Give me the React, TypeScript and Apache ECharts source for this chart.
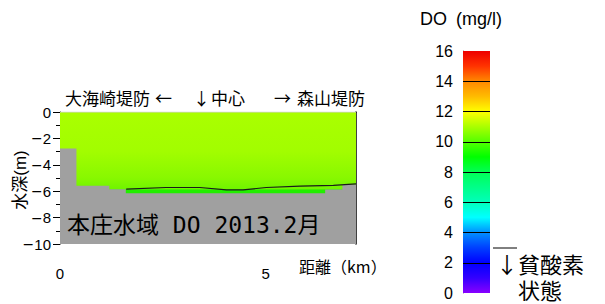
import React, { useEffect, useRef } from "react";
import * as echarts from "echarts";

// Seabed profile (distance km, depth m)
const seabedKm = [0, 0.4, 0.4, 1.2, 1.2, 1.6, 1.6, 6.45, 6.45, 6.87, 6.87, 7.2];
const seabedDepth = [-2.76, -2.76, -5.58, -5.58, -5.85, -5.85, -6.15, -6.15, -5.87, -5.87, -5.5, -5.5];

// Black contour line (distance km, depth m)
const lineKm = [1.61, 2.58, 3.4, 4.05, 4.45, 5.02, 5.84, 6.65, 7.2];
const lineDepth = [-5.85, -5.72, -5.72, -5.9, -5.9, -5.72, -5.62, -5.56, -5.45];

// Water surface
const waterKm = [0, 7.2];
const waterDepth = [0, 0];

// Colour bar
const colorbarMax = [16];
const colorbarTicks = [2, 4, 6, 8, 10, 12, 14];
const colorStops = [
  "#8800ff", "#3300ff", "#0000ff", "#0040ff", "#0090ff", "#00ffff", "#00ffbb", "#00ff88",
  "#00ff55", "#00ff00", "#55ff00", "#aaff00", "#ffff00", "#ffbb00", "#ff8800", "#ff3300", "#ee0000",
];

const xLabelsShown = [0, 5];

const CJK = "'Liberation Sans', 'Noto Sans CJK JP', sans-serif";
const CJKF = "'Noto Sans CJK JP', sans-serif";

export default function App() {
  const ref = useRef<HTMLDivElement>(null);
  useEffect(() => {
    document.body.style.margin = "0";
    if (!ref.current) return;
    const chart = echarts.init(ref.current, undefined, { renderer: "svg" });
    const pair = (xs: number[], ys: number[]) => xs.map((x, i) => [x, ys[i]]);
    const barGradient = new echarts.graphic.LinearGradient(
      0, 1, 0, 0,
      colorStops.map((c, i) => ({ offset: i / (colorStops.length - 1), color: c }))
    );
    const waterGradient = new echarts.graphic.LinearGradient(0, 0, 0, 1, [
      { offset: 0, color: "#aaff00" },
      { offset: 0.3, color: "#a2fd00" },
      { offset: 0.5, color: "#88f800" },
      { offset: 0.583, color: "#70f400" },
      { offset: 0.59, color: "#22ee00" },
      { offset: 1, color: "#22ee00" },
    ]);
    const txt = (left: number, top: number, text: string, font: string, lineHeight?: number) => ({
      type: "text", left, top, z: 100,
      style: { text, font, fill: "#000", ...(lineHeight ? { lineHeight } : {}) },
    });
    chart.setOption({
      animation: false,
      grid: [
        { left: 60, top: 112, width: 296, height: 132, containLabel: false },
        { left: 463, top: 51, width: 27, height: 242, containLabel: false },
      ],
      xAxis: [
        {
          type: "value", gridIndex: 0, min: 0, max: 7.2, interval: 1,
          axisLine: { show: true, lineStyle: { color: "#000", width: 1 } },
          axisTick: { show: true, length: 5, lineStyle: { color: "#000" } },
          axisLabel: {
            show: true, margin: 22, fontSize: 15, color: "#000", fontFamily: CJK,
            formatter: (v: number) => (xLabelsShown.includes(v) ? String(v) : ""),
            showMaxLabel: false,
          },
          splitLine: { show: false },
        },
        {
          type: "category", gridIndex: 1, data: ["DO"],
          show: false,
        },
      ],
      yAxis: [
        {
          type: "value", gridIndex: 0, min: -10, max: 0, interval: 2,
          axisLine: { show: true, lineStyle: { color: "#000", width: 1 } },
          axisTick: { show: true, length: 7, lineStyle: { color: "#000" } },
          minorTick: { show: true, splitNumber: 2, length: 4, lineStyle: { color: "#000" } },
          axisLabel: {
            margin: 9, color: "#000",
            formatter: (v: number) => (v < 0 ? `{m|\u2212}{d|${-v}}` : `{d|${v}}`),
            rich: {
              m: { fontFamily: "'DejaVu Sans', sans-serif", fontSize: 14, color: "#000" },
              d: { fontFamily: "'Liberation Sans', sans-serif", fontSize: 15, color: "#000" },
            },
          },
          splitLine: { show: false },
        },
        {
          type: "value", gridIndex: 0, min: -10, max: 0, position: "right",
          axisLine: { show: true, onZero: false, lineStyle: { color: "#000", width: 1.5 } },
          axisTick: { show: false }, axisLabel: { show: false }, splitLine: { show: false },
        },
        {
          type: "value", gridIndex: 1, min: 0, max: 16, interval: 2,
          axisLine: { show: true, lineStyle: { color: "#777", width: 1 } },
          axisTick: { show: false },
          axisLabel: { margin: 10, fontSize: 16, color: "#000", fontFamily: CJK },
          splitLine: { show: false },
        },
      ],
      series: [
        {
          type: "line", xAxisIndex: 0, yAxisIndex: 0, data: pair(waterKm, waterDepth),
          symbol: "none", lineStyle: { color: "#d0d0d0", width: 1 },
          areaStyle: { origin: "start", color: waterGradient, opacity: 1 },
          z: 1,
        },
        {
          type: "line", xAxisIndex: 0, yAxisIndex: 0, data: pair(seabedKm, seabedDepth),
          symbol: "none", lineStyle: { width: 0, color: "#a0a0a0" },
          areaStyle: { origin: "start", color: "#a0a0a0", opacity: 1 },
          z: 2,
        },
        {
          type: "line", xAxisIndex: 0, yAxisIndex: 0, data: pair(lineKm, lineDepth),
          symbol: "none", lineStyle: { width: 1.2, color: "#1a1a1a" },
          z: 3,
        },
        {
          type: "bar", xAxisIndex: 1, yAxisIndex: 2, data: colorbarMax,
          barWidth: "100%", itemStyle: { color: barGradient },
          markLine: {
            silent: true, symbol: "none", label: { show: false },
            lineStyle: { color: "#000", width: 1, type: "solid" },
            data: colorbarTicks.map((v) => ({ yAxis: v })),
          },
        },
      ],
      graphic: [
        {
          type: "text", x: 20, y: 180, rotation: Math.PI / 2, z: 100,
          style: { text: "水深(m)", font: `17px ${CJK}`, fill: "#000", align: "center", verticalAlign: "middle" },
        },
        txt(65, 89, "大海崎堤防", `17px ${CJKF}`),
        txt(155, 89, "←", `17px ${CJKF}`),
        txt(193, 89, "↓", `17px ${CJKF}`),
        txt(211, 89, "中心", `17px ${CJKF}`),
        txt(274, 89, "→", `17px ${CJKF}`),
        txt(297, 89, "森山堤防", `17px ${CJKF}`),
        txt(67, 213, "本庄水域 DO 2013.2月", `23px 'DejaVu Sans Mono', 'Noto Sans CJK JP', monospace`),
        txt(299, 258, "距離（km）", `16px ${CJKF}`),
        txt(420, 10, "DO", `18px ${CJK}`),
        txt(456, 10, "(mg/l)", `18px ${CJK}`),
        {
          type: "line", z: 100, shape: { x1: 493, y1: 248, x2: 517, y2: 248 },
          style: { stroke: "#000", lineWidth: 1 },
        },
        txt(496, 250, "↓貧酸素\n\u3000状態", `22px ${CJKF}`, 26),
      ],
    });
    return () => chart.dispose();
  }, []);
  return <div ref={ref} style={{ width: 605, height: 304 }} />;
}
